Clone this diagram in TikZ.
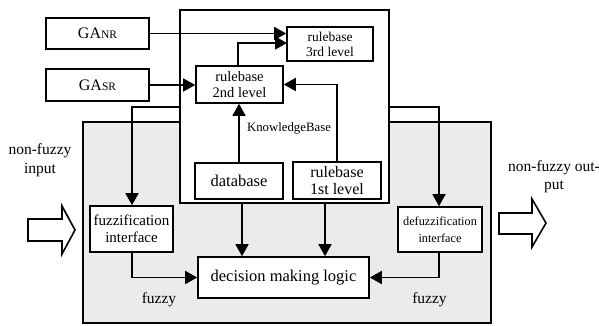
\documentclass[tikz,border=0pt]{standalone}
\usepackage{fontspec}
\setmainfont{Liberation Serif}
\newfontfamily\tms{Liberation Serif}
\usetikzlibrary{arrows.meta,calc}
\definecolor{panel}{RGB}{235,235,235}
\newcommand{\fs}[1]{\tms\fontsize{#1}{#1}\selectfont}
\tikzset{
  box/.style={draw, line width=1.6pt, fill=white, inner sep=1pt, align=center, font=\fs{15}},
  conn/.style={line width=1.6pt, -{Triangle[length=12pt,width=13pt]}},
  lbl/.style={align=center, inner sep=0pt, font=\fs{15.5}},
  hollow/.style={draw, line width=1.6pt, fill=white, line join=miter}
}
\begin{document}
\begin{tikzpicture}[x=1pt,y=-1pt]
\useasboundingbox (0,0) rectangle (599,325);
% gray panel
\draw[line width=1.6pt, fill=panel] (83,122) rectangle (491,323);
% knowledge base frame
\draw[line width=1.6pt, fill=white] (180,10) rectangle (389,203);
\node[lbl, font=\fs{12.8}] (kbl) at (289,128) {KnowledgeBase};
\coordinate (kbtl) at (180,10);
\coordinate (kbbr) at (389,203);

\node[box, minimum width=103pt, minimum height=31pt, font=\fs{16}] (ganr) at (97.5,33.5) {GA{\fs{11.5}NR}};
\node[box, minimum width=103pt, minimum height=32pt, font=\fs{16}] (gasr) at (97.5,85) {GA{\fs{11.5}SR}};

\node[box, minimum width=86pt, minimum height=34pt, font=\fs{13.5}, execute at begin node={\baselineskip=15pt}] (rb3) at (330,44) {rulebase\\3rd level};
\node[box, minimum width=87pt, minimum height=37pt, font=\fs{14.5}, execute at begin node={\baselineskip=16pt}] (rb2) at (239.5,84.5) {rulebase\\2nd level};
\node[box, minimum width=88pt, minimum height=36pt, font=\fs{16.5}] (db) at (239,181) {database};
\node[box, minimum width=88pt, minimum height=37pt, font=\fs{16}, execute at begin node={\baselineskip=17pt}] (rb1) at (337,180.5) {rulebase\\1st level};
\node[box, minimum width=83pt, minimum height=46pt, font=\fs{15}, execute at begin node={\baselineskip=17pt}] (fuzz) at (131.5,229) {fuzzification\\interface};
\node[box, minimum width=84pt, minimum height=45pt, font=\fs{12.3}, execute at begin node={\baselineskip=17pt}] (defuzz) at (440,229.5) {defuzzification\\interface};
\node[box, minimum width=171pt, minimum height=41pt, font=\fs{16.5}] (dml) at (283.5,277.5) {decision making logic};

\node[lbl, execute at begin node={\baselineskip=19pt}] (inl) at (40,160) {non-fuzzy\\input};
\node[lbl, execute at begin node={\baselineskip=18pt}] (outl) at (554,177) {non-fuzzy out-\\put};
\node[lbl] (fzl) at (159,300) {fuzzy};
\node[lbl] (fzr) at (429.5,300) {fuzzy};

% hollow arrows
\draw[hollow] (28,219) -- (62,219) -- (62,206) -- (75,230) -- (62,254) -- (62,241) -- (28,241) -- cycle;
\draw[hollow] (499,213) -- (532,213) -- (532,199) -- (546,223) -- (532,247) -- (532,234) -- (499,234) -- cycle;

% connectors
\draw[conn] (ganr.east) -- (ganr.east -| rb3.west);
\coordinate (rb3in) at (287,43);
\draw[conn] (rb2.north -| 238,0) |- (rb3in);
\draw[conn] (gasr.east) -- (gasr.east -| rb2.west);
\draw[conn] (rb1.north) |- (rb2.east);
\draw[conn] (db.north) -- (db.north |- rb2.south);
\coordinate (cl) at (132,107);
\coordinate (cr) at (439,107);
\draw[conn] (cl -| kbtl) -- (cl) -- (fuzz.north -| cl);
\draw[conn] (cr -| kbbr) -- (cr) -- (defuzz.north -| cr);
\coordinate (d1) at (242,203);
\coordinate (d2) at (325,203);
\draw[conn] (d1) -- (d1 |- dml.north);
\draw[conn] (d2) -- (d2 |- dml.north);
\draw[conn] (fuzz.south -| cl) |- (dml.west);
\draw[conn] (defuzz.south -| cr) |- (dml.east);
\end{tikzpicture}
\end{document}
